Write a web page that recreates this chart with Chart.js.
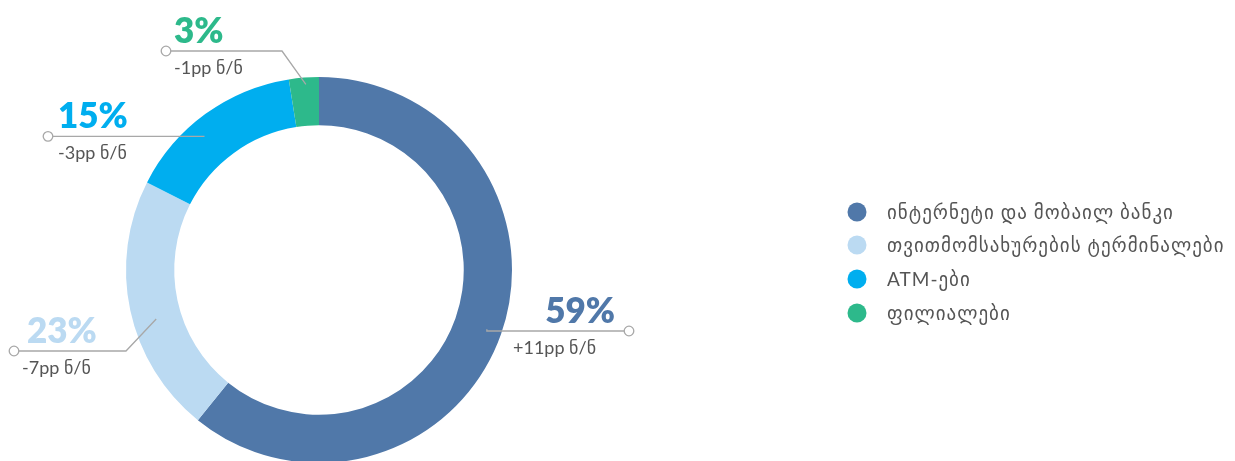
<!DOCTYPE html>
<html lang="ka">
<head>
    <meta charset="UTF-8">
    <title>არხები</title>
    <script src="https://cdn.jsdelivr.net/npm/chart.js"></script>
    <style>
        html, body { margin: 0; padding: 0; background: #fff; overflow: hidden; }
        #wrap { position: relative; width: 1235px; height: 470px; }
    </style>
</head>
<body>
    <div id="wrap">
        <canvas id="chartArxebi"></canvas>
    </div>

<script>
    // data
    const categories = ['ინტერნეტი და მობაილ ბანკი', 'თვითმომსახურების ტერმინალები', 'ATM-ები', 'ფილიალები'];
    const arcShares = [60.8, 21.7, 15.0, 2.5];
    const pctLabels = ['59%', '23%', '15%', '3%'];
    const changeLabels = ['+11pp ნ/ნ', '-7pp ნ/ნ', '-3pp ნ/ნ', '-1pp ნ/ნ'];

    const colors = ['#5078a9', '#bbdaf2', '#00aeef', '#2db98b'];
    const FONT = 'Lato, "DejaVu Sans", sans-serif';

    // callout layout: where on the arc the leader starts, where it bends, where the dot sits
    const callouts = [
        { frac: 0.50, r: 178, lineY: 331, elbowX: null, dotX: 629, pctX: 615, pctAlign: 'right', subX: 513 },
        { frac: 0.44, r: 170, lineY: 351, elbowX: 126, dotX: 14, pctX: 27, pctAlign: 'left', subX: 22 },
        { frac: 0.415, r: 176, lineY: null, elbowX: null, dotX: 48, pctX: 58, pctAlign: 'left', subX: 58 },
        { frac: 0.55, r: 186, lineY: 51, elbowX: 282, dotX: 166, pctX: 174, pctAlign: 'left', subX: 174 }
    ];

    const calloutPlugin = {
        id: 'callouts',
        afterDraw(chart) {
            const c = chart.ctx;
            const meta = chart.getDatasetMeta(0);
            meta.data.forEach((arc, i) => {
                const p = arc.getProps(['x', 'y', 'startAngle', 'endAngle'], true);
                const lay = callouts[i];
                const a = p.startAngle + (p.endAngle - p.startAngle) * lay.frac;
                const ax = p.x + lay.r * Math.cos(a);
                const ay = p.y + lay.r * Math.sin(a);
                const ly = lay.lineY === null ? ay : lay.lineY;

                c.save();
                c.strokeStyle = '#a8a8a8';
                c.lineWidth = 1.3;
                c.beginPath();
                c.moveTo(ax, ay);
                if (lay.elbowX !== null) c.lineTo(lay.elbowX, ly);
                else c.lineTo(ax, ly);
                c.lineTo(lay.dotX, ly);
                c.stroke();

                c.fillStyle = '#fff';
                c.beginPath();
                c.arc(lay.dotX, ly, 4.8, 0, Math.PI * 2);
                c.fill();
                c.stroke();

                c.fillStyle = colors[i];
                c.font = '800 35px ' + FONT;
                c.textAlign = lay.pctAlign;
                c.textBaseline = 'alphabetic';
                c.fillText(pctLabels[i], lay.pctX, ly - 8);

                c.fillStyle = '#555';
                c.font = '18px ' + FONT;
                c.textAlign = 'left';
                c.fillText(changeLabels[i], lay.subX, ly + 23);
                c.restore();
            });

            // legend
            const legY = [212, 245, 279, 313];
            c.save();
            categories.forEach((name, i) => {
                c.fillStyle = colors[i];
                c.beginPath();
                c.arc(857, legY[i], 9.5, 0, Math.PI * 2);
                c.fill();
                c.fillStyle = '#555';
                c.font = '19px ' + FONT;
                c.letterSpacing = '1px';
                c.textAlign = 'left';
                c.textBaseline = 'middle';
                c.fillText(name, 887, legY[i] + 1);
            });
            c.restore();
        }
    };

    new Chart(document.getElementById('chartArxebi').getContext('2d'), {
        type: 'doughnut',
        data: {
            labels: categories,
            datasets: [{
                data: arcShares,
                backgroundColor: colors,
                borderWidth: 0,
                hoverOffset: 0
            }]
        },
        options: {
            responsive: true,
            maintainAspectRatio: false,
            animation: false,
            cutout: '75%',
            layout: {
                padding: { left: 126, top: 77, right: 723, bottom: 7 }
            },
            plugins: {
                legend: { display: false },
                tooltip: { enabled: false }
            }
        },
        plugins: [calloutPlugin]
    })
</script>
</body>
</html>
